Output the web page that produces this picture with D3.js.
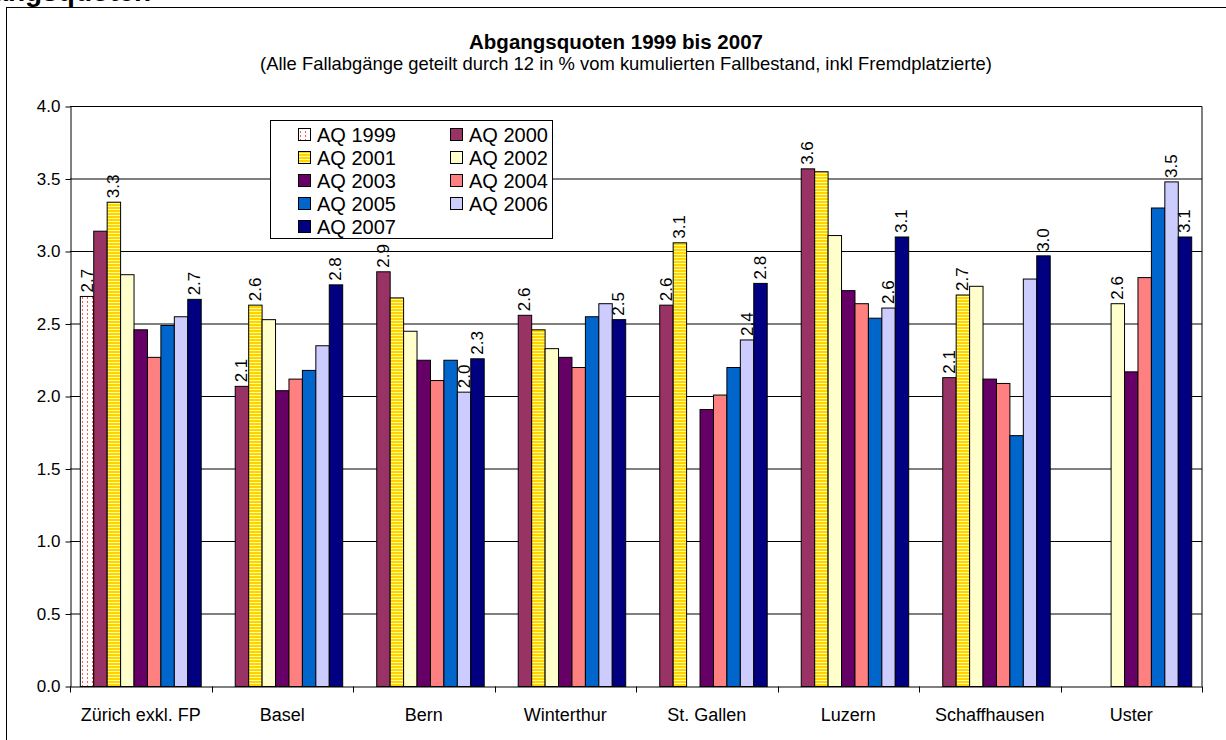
<!DOCTYPE html>
<html>
<head>
<meta charset="utf-8">
<script src="https://cdn.jsdelivr.net/npm/d3@7"></script>
<style>
  html, body { margin: 0; padding: 0; background: #fff; }
  svg { display: block; font-family: "Liberation Sans", Arial, Helvetica, sans-serif; }
</style>
</head>
<body>
<svg id="chart" width="1226" height="740"></svg>
<script>
// Abgangsquoten (exit rates) per city and year
const categories = ["Zürich exkl. FP", "Basel", "Bern", "Winterthur", "St. Gallen", "Luzern", "Schaffhausen", "Uster"];
const seriesNames = ["AQ 1999", "AQ 2000", "AQ 2001", "AQ 2002", "AQ 2003", "AQ 2004", "AQ 2005", "AQ 2006", "AQ 2007"];

const aq1999 = [2.69, null, null, null, null, null, null, null];
const aq2000 = [3.14, 2.07, 2.86, 2.56, 2.63, 3.57, 2.13, null];
const aq2001 = [3.34, 2.63, 2.68, 2.46, 3.06, 3.55, 2.70, null];
const aq2002 = [2.84, 2.53, 2.45, 2.33, null, 3.11, 2.76, 2.64];
const aq2003 = [2.46, 2.04, 2.25, 2.27, 1.91, 2.73, 2.12, 2.17];
const aq2004 = [2.27, 2.12, 2.11, 2.20, 2.01, 2.64, 2.09, 2.82];
const aq2005 = [2.49, 2.18, 2.25, 2.55, 2.20, 2.54, 1.73, 3.30];
const aq2006 = [2.55, 2.35, 2.03, 2.64, 2.39, 2.61, 2.81, 3.48];
const aq2007 = [2.67, 2.77, 2.26, 2.53, 2.78, 3.10, 2.97, 3.10];
const seriesValues = [aq1999, aq2000, aq2001, aq2002, aq2003, aq2004, aq2005, aq2006, aq2007];

// which bars carry a value label (category indices per series)
const labelled1999 = [0];
const labelled2000 = [1, 2, 3, 4, 5, 6];
const labelled2001 = [0, 1, 4, 6];
const labelled2002 = [7];
const labelled2003 = [];
const labelled2004 = [];
const labelled2005 = [];
const labelled2006 = [2, 4, 5, 7];
const labelled2007 = [0, 1, 2, 3, 4, 5, 6, 7];
const labelledBars = [labelled1999, labelled2000, labelled2001, labelled2002, labelled2003,
                      labelled2004, labelled2005, labelled2006, labelled2007];

const yTicks = [0, 0.5, 1, 1.5, 2, 2.5, 3, 3.5, 4];

const fills = ["url(#dots)", "#993366", "url(#stripes)", "#FFFFCC", "#660066",
               "#FF8080", "#0066CC", "#CCCCFF", "#000080"];

const svg = d3.select("#chart");
const defs = svg.append("defs");

// sparse red dots on white
const dots = defs.append("pattern").attr("id", "dots")
  .attr("patternUnits", "userSpaceOnUse").attr("width", 5).attr("height", 4);
dots.append("rect").attr("width", 5).attr("height", 4).attr("fill", "#fff");
dots.append("rect").attr("x", 2).attr("y", 1).attr("width", 1).attr("height", 2).attr("fill", "#FF5A5A");

// horizontal yellow stripes
const stripes = defs.append("pattern").attr("id", "stripes")
  .attr("patternUnits", "userSpaceOnUse").attr("width", 4).attr("height", 3);
stripes.append("rect").attr("width", 4).attr("height", 3).attr("fill", "#FFFF99");
stripes.append("rect").attr("y", 0).attr("width", 4).attr("height", 2).attr("fill", "#FFD200");

// page heading, mostly above the top edge
svg.append("text")
  .attr("x", -62).attr("y", 1)
  .attr("font-size", 28).attr("font-weight", "bold")
  .text("Abgangsquoten");

// outer chart frame
svg.append("rect")
  .attr("x", 6.5).attr("y", 7.5).attr("width", 1260).attr("height", 760)
  .attr("fill", "#fff").attr("stroke", "#000").attr("stroke-width", 1);

// titles
svg.append("text")
  .attr("x", 616).attr("y", 49).attr("text-anchor", "middle")
  .attr("font-size", 20.5).attr("font-weight", "bold")
  .text("Abgangsquoten 1999 bis 2007");
svg.append("text")
  .attr("x", 626).attr("y", 70).attr("text-anchor", "middle")
  .attr("font-size", 18.4)
  .text("(Alle Fallabgänge geteilt durch 12 in % vom kumulierten Fallbestand, inkl Fremdplatzierte)");

// scales
const x0 = d3.scaleBand().domain(categories).range([70, 1202]).padding(0);
const groupPad = 10.3;
const x1 = d3.scaleBand().domain(seriesNames)
  .range([groupPad, x0.bandwidth() - groupPad]).padding(0);
const y = d3.scaleLinear().domain([0, 4]).range([686.5, 106.5]);

// gridlines
svg.append("g").selectAll("line").data(yTicks.filter(t => t > 0)).join("line")
  .attr("x1", 70).attr("x2", 1202)
  .attr("y1", d => y(d)).attr("y2", d => y(d))
  .attr("stroke", "#000").attr("stroke-width", 1);

// right edge of the plot area
svg.append("line")
  .attr("x1", 1202).attr("x2", 1202).attr("y1", y(4)).attr("y2", y(0))
  .attr("stroke", "#000").attr("stroke-width", 1);

// bars
const rows = [];
seriesValues.forEach((vals, si) => {
  vals.forEach((v, ci) => {
    if (v != null) rows.push({ s: seriesNames[si], si, c: categories[ci], ci, v });
  });
});

svg.append("g").selectAll("rect").data(rows).join("rect")
  .attr("x", d => x0(d.c) + x1(d.s))
  .attr("y", d => y(d.v))
  .attr("width", x1.bandwidth())
  .attr("height", d => y(0) - y(d.v))
  .attr("fill", d => fills[d.si])
  .attr("stroke", "#000").attr("stroke-width", 1);

// y axis
const yAxis = d3.axisLeft(y).tickValues(yTicks).tickFormat(d3.format(".1f"))
  .tickSize(5).tickSizeOuter(0).tickPadding(5);
const gy = svg.append("g").attr("transform", "translate(70.5,0)").call(yAxis);
gy.selectAll("text").attr("font-size", 17).attr("fill", "#000")
  .attr("font-family", "'Liberation Sans', Arial, sans-serif");
gy.selectAll("line, path").attr("stroke", "#000");

// x axis: labels centred, ticks on category boundaries
const xAxis = d3.axisBottom(x0).tickSize(0).tickSizeOuter(0).tickPadding(22);
const gx = svg.append("g").attr("transform", `translate(0,${y(0)})`).call(xAxis);
gx.selectAll("text").attr("font-size", 18).attr("fill", "#000")
  .attr("font-family", "'Liberation Sans', Arial, sans-serif");
gx.select("path").attr("stroke", "#000");
const bounds = categories.map(c => x0(c)).concat([x0.range()[1]]);
svg.append("g").selectAll("line").data(bounds).join("line")
  .attr("x1", d => Math.round(d) + 0.5).attr("x2", d => Math.round(d) + 0.5)
  .attr("y1", y(0)).attr("y2", y(0) + 6)
  .attr("stroke", "#000");

// value labels
const fmt = d3.format(".1f");
const labelRows = rows.filter(d => labelledBars[d.si].includes(d.ci));
svg.append("g").selectAll("text").data(labelRows).join("text")
  .attr("transform", d => `translate(${x0(d.c) + x1(d.s) + x1.bandwidth() / 2},${y(d.v) - 4}) rotate(-90)`)
  .attr("dominant-baseline", "central")
  .attr("font-size", 17)
  .text(d => fmt(d.v));

// legend
const lg = svg.append("g");
lg.append("rect")
  .attr("x", 270.5).attr("y", 120.5).attr("width", 282).attr("height", 118)
  .attr("fill", "#fff").attr("stroke", "#000");
const legendItems = lg.selectAll("g.item").data(seriesNames).join("g")
  .attr("class", "item")
  .attr("transform", (d, i) => `translate(${i % 2 === 0 ? 298 : 450},${134 + Math.floor(i / 2) * 23})`);
legendItems.append("rect")
  .attr("x", 0.5).attr("y", -5.5).attr("width", 12).attr("height", 12)
  .attr("fill", (d, i) => fills[i]).attr("stroke", "#000");
legendItems.append("text")
  .attr("x", 19).attr("y", 1).attr("dominant-baseline", "central")
  .attr("font-size", 20)
  .text(d => d);
</script>
</body>
</html>
